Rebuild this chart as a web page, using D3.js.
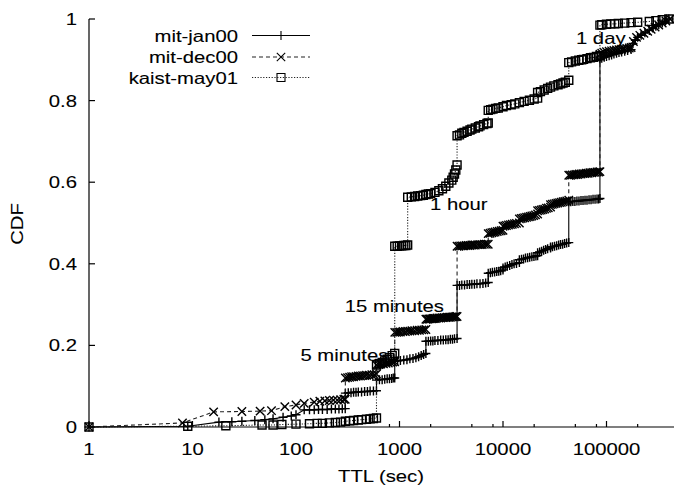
<!DOCTYPE html>
<html>
<head>
<meta charset="utf-8">
<script src="https://cdn.jsdelivr.net/npm/d3@7"></script>
<style>
html,body{margin:0;padding:0;background:#fff;}
svg{display:block;}
text{font-family:"Liberation Sans",Arial,Helvetica,sans-serif;font-size:16.5px;fill:#000;stroke:#000;stroke-width:0.1px;}
</style>
</head>
<body>
<svg id="chart" width="674" height="489"></svg>
<script>
// ---------------- data (TTL in seconds, CDF) ----------------
const seriesNames = ["mit-jan00", "mit-dec00", "kaist-may01"];
const yTickValues = [0, 0.2, 0.4, 0.6, 0.8, 1];
const yTickLabels = ["0", "0.2", "0.4", "0.6", "0.8", "1"];
const xTickValues = [1, 10, 100, 1000, 10000, 100000];
const xTickLabels = ["1", "10", "100", "1000", "10000", "100000"];
const xMinorTicks = [800, 2000, 5000, 8000, 20000, 50000, 80000, 200000];
const annotations = [
  {text: "5 minutes", ttl: 300},
  {text: "15 minutes", ttl: 900},
  {text: "1 hour", ttl: 3600},
  {text: "1 day", ttl: 86400}
];

const mitJan00 = [
[1,0],[9,0.002],[18,0.012],[24,0.013],[30,0.014],[40,0.016],[50,0.018],[60,0.02],[75,0.024],[90,0.027],[100,0.03],[120,0.042],[135,0.042],[150,0.042],[165,0.043],[180,0.043],[200,0.043],[220,0.044],[240,0.044],[260,0.044],[280,0.045],[299,0.045],
[300,0.083],[320,0.084],[340,0.084],[360,0.085],[380,0.085],[400,0.086],[430,0.086],[460,0.087],[490,0.087],[520,0.088],[560,0.088],[599,0.089],
[600,0.115],[640,0.116],[680,0.116],[720,0.117],[760,0.118],[800,0.118],[840,0.119],[870,0.12],[899,0.12],
[900,0.161],[960,0.162],[1020,0.163],[1100,0.164],[1180,0.165],[1260,0.167],[1350,0.168],[1440,0.17],[1530,0.172],[1620,0.175],[1710,0.178],[1799,0.18],
[1800,0.21],[1900,0.21],[2000,0.211],[2100,0.211],[2200,0.212],[2350,0.212],[2500,0.213],[2650,0.213],[2800,0.214],[2950,0.214],[3100,0.215],[3250,0.215],[3400,0.216],[3599,0.217],
[3600,0.347],[3800,0.347],[4000,0.348],[4250,0.348],[4500,0.349],[4750,0.349],[5000,0.35],[5300,0.35],[5600,0.351],[6000,0.351],[6400,0.352],[6800,0.353],[7199,0.354],
[7200,0.377],[7550,0.378],[7900,0.379],[8300,0.38],[8700,0.381],[9100,0.382],[9500,0.383],[9999,0.385],
[10000,0.39],[10500,0.392],[11000,0.394],[11600,0.396],[12200,0.398],[12800,0.4],[13500,0.401],[14399,0.403],
[14400,0.41],[15100,0.411],[15800,0.412],[16500,0.414],[17300,0.415],[18100,0.416],[19000,0.417],[19900,0.418],[20800,0.419],[21599,0.42],
[21600,0.427],[22600,0.429],[23600,0.431],[24700,0.433],[25800,0.435],[27000,0.437],[28799,0.439],
[28800,0.441],[30100,0.442],[31500,0.443],[33000,0.444],[34500,0.446],[36000,0.447],[37700,0.448],[39400,0.45],[41200,0.451],[43199,0.452],
[43200,0.552],[45200,0.552],[47300,0.553],[49500,0.553],[51800,0.554],[54200,0.554],[56700,0.555],[59300,0.555],[62000,0.556],[64800,0.556],[67800,0.557],[70900,0.557],[74100,0.558],[77500,0.558],[81000,0.559],[84000,0.559],[86399,0.56],
[86400,0.902],[90000,0.904],[95000,0.906],[100000,0.908],[106000,0.91],[112000,0.912],[118000,0.914],[125000,0.916],[132000,0.918],[140000,0.919],[150000,0.921],[160000,0.923],[172800,0.925],[180000,0.94],[190000,0.948],[200000,0.955],[216000,0.96],[235000,0.966],[259200,0.972],[280000,0.978],[300000,0.982],[320000,0.986],[345600,0.99],[370000,0.995],[400000,1.0]
];

const mitDec00 = [
[1,0],[8,0.01],[16,0.037],[30,0.038],[45,0.039],[58,0.04],[78,0.05],[100,0.054],[120,0.058],[150,0.061],[170,0.063],[190,0.064],[210,0.065],[230,0.066],[250,0.066],[270,0.067],[290,0.068],[299,0.068],
[300,0.12],[315,0.121],[330,0.122],[345,0.123],[360,0.123],[380,0.124],[400,0.125],[420,0.125],[440,0.126],[460,0.126],[480,0.127],[510,0.127],[540,0.128],[570,0.128],[599,0.13],
[600,0.152],[630,0.153],[660,0.154],[700,0.155],[740,0.156],[780,0.157],[820,0.158],[860,0.159],[899,0.16],
[900,0.232],[940,0.232],[980,0.233],[1020,0.233],[1080,0.234],[1140,0.234],[1200,0.235],[1260,0.235],[1320,0.236],[1400,0.236],[1480,0.237],[1560,0.237],[1640,0.238],[1720,0.238],[1799,0.239],
[1800,0.264],[1860,0.264],[1920,0.265],[1980,0.265],[2040,0.265],[2100,0.266],[2160,0.266],[2220,0.266],[2300,0.267],[2400,0.267],[2500,0.267],[2600,0.268],[2700,0.268],[2800,0.268],[2900,0.269],[3000,0.269],[3100,0.269],[3200,0.27],[3300,0.27],[3400,0.27],[3500,0.271],[3599,0.271],
[3600,0.443],[3750,0.443],[3900,0.444],[4050,0.444],[4200,0.444],[4400,0.445],[4600,0.445],[4800,0.445],[5000,0.446],[5200,0.446],[5400,0.446],[5700,0.447],[6000,0.447],[6300,0.447],[6600,0.448],[6900,0.448],[7199,0.448],
[7200,0.474],[7500,0.475],[7800,0.476],[8100,0.477],[8400,0.478],[8800,0.479],[9200,0.48],[9600,0.481],[9999,0.482],
[10000,0.492],[10400,0.493],[10800,0.494],[11300,0.495],[11800,0.496],[12300,0.497],[12900,0.498],[13500,0.499],[14399,0.5],
[14400,0.51],[15000,0.511],[15600,0.512],[16200,0.513],[16900,0.514],[17600,0.515],[18300,0.516],[19000,0.517],[19800,0.518],[20600,0.52],[21599,0.522],
[21600,0.53],[22500,0.531],[23400,0.532],[24300,0.533],[25300,0.534],[26300,0.536],[27400,0.537],[28799,0.539],
[28800,0.545],[30000,0.546],[31200,0.547],[32500,0.548],[33800,0.549],[35200,0.55],[36600,0.551],[38100,0.552],[39600,0.553],[41300,0.554],[43199,0.556],
[43200,0.617],[44900,0.617],[46700,0.618],[48600,0.618],[50500,0.619],[52500,0.619],[54600,0.62],[56800,0.62],[59100,0.621],[61500,0.621],[64000,0.622],[66500,0.622],[69200,0.623],[72000,0.623],[74900,0.624],[77900,0.624],[81000,0.625],[84000,0.625],[86399,0.626],
[86400,0.914],[90000,0.916],[95000,0.918],[100000,0.92],[106000,0.921],[112000,0.922],[118000,0.923],[125000,0.924],[132000,0.925],[140000,0.926],[148000,0.927],[157000,0.928],[166000,0.929],[172800,0.93],[182000,0.945],[195000,0.955],[210000,0.96],[230000,0.965],[250000,0.97],[270000,0.975],[295000,0.98],[320000,0.985],[345600,0.99],[375000,0.995],[410000,1.0]
];

const kaistMay01 = [
[1,0],[9,0.002],[21,0.003],[47,0.005],[60,0.005],[73,0.006],[100,0.007],[135,0.008],[160,0.009],[180,0.009],[210,0.01],[240,0.011],[270,0.012],[300,0.014],[330,0.015],[360,0.016],[400,0.017],[430,0.018],[480,0.019],[520,0.02],[560,0.021],[599,0.022],
[600,0.152],[640,0.155],[680,0.158],[720,0.162],[760,0.166],[800,0.17],[850,0.175],[899,0.18],
[900,0.443],[950,0.443],[1000,0.444],[1050,0.444],[1100,0.445],[1150,0.445],[1199,0.446],
[1200,0.563],[1300,0.564],[1400,0.565],[1500,0.566],[1600,0.567],[1700,0.568],[1800,0.57],[1900,0.571],[2000,0.572],[2200,0.575],[2400,0.579],[2600,0.584],[2800,0.59],[3000,0.598],[3200,0.605],[3300,0.612],[3400,0.62],[3500,0.63],[3599,0.642],
[3600,0.714],[3800,0.716],[4000,0.72],[4200,0.722],[4500,0.725],[4800,0.728],[5000,0.73],[5400,0.733],[5800,0.736],[6000,0.738],[6500,0.741],[7000,0.744],[7199,0.745],
[7200,0.776],[7600,0.778],[8000,0.779],[8500,0.781],[9000,0.782],[10000,0.785],[10800,0.788],[12000,0.79],[13000,0.792],[14400,0.795],[16000,0.798],[18000,0.801],[20000,0.804],[21599,0.806],
[21600,0.82],[23000,0.822],[25000,0.826],[27000,0.83],[28800,0.833],[31000,0.836],[34000,0.839],[36000,0.841],[38000,0.843],[40000,0.845],[43199,0.85],
[43200,0.893],[46000,0.895],[50000,0.897],[54000,0.899],[57600,0.9],[60000,0.901],[64800,0.903],[70000,0.905],[75000,0.906],[80000,0.908],[86399,0.91],
[86400,0.985],[90000,0.986],[100000,0.987],[110000,0.988],[120000,0.988],[130000,0.989],[150000,0.99],[172800,0.991],[200000,0.992],[259200,0.994],[300000,0.996],[345600,0.998],[400000,1.0]
];

// ---------------- drawing ----------------
const svg = d3.select("#chart");
svg.append("rect").attr("width", 674).attr("height", 489).attr("fill", "#fff");

const x = d3.scaleLog().domain([1, 100000]).range([89, 606.5]);
const y = d3.scaleLinear().domain([0, 1]).range([427, 19]);
const SX = 1.23;

function label(g, txt, tx, ty, anchor, rot) {
  return g.append("text")
    .attr("transform", `translate(${tx},${ty})` + (rot ? ` rotate(${rot})` : "") + ` scale(${SX},1)`)
    .attr("text-anchor", anchor)
    .text(txt);
}

// annotations (drawn beneath data, like gnuplot)
const annG = svg.append("g");
const annPos = {
  "5 minutes": [x(300) - 45, 361],
  "15 minutes": [x(900) - 50, 312],
  "1 hour": [x(3600) - 27, 210],
  "1 day": [x(86400) - 24, 44]
};
annotations.forEach(a => {
  const p = annPos[a.text];
  label(annG, a.text, p[0], p[1], "start");
});

const markers = {
  plus: "M-4.5,0H4.5M0,-4.5V4.5",
  cross: "M-4.2,-4.2L4.2,4.2M-4.2,4.2L4.2,-4.2",
  square: "M-4,-4H4V4H-4Z"
};
const styles = [
  {data: mitJan00, dash: null, stroke: "#000", mk: markers.plus},
  {data: mitDec00, dash: "4,3", stroke: "#222", mk: markers.cross},
  {data: kaistMay01, dash: "1.2,1.6", stroke: "#222", mk: markers.square}
];

const line = d3.line().x(d => x(d[0])).y(d => y(d[1]));

styles.forEach(s => {
  const g = svg.append("g");
  g.append("path").datum(s.data).attr("d", line)
    .attr("fill", "none").attr("stroke", s.stroke).attr("stroke-width", 1.1)
    .attr("stroke-dasharray", s.dash);
  g.selectAll("path.mk").data(s.data).enter().append("path")
    .attr("class", "mk")
    .attr("d", s.mk)
    .attr("transform", d => `translate(${x(d[0])},${y(d[1])})`)
    .attr("fill", "none").attr("stroke", "#000").attr("stroke-width", 1.4);
});

// axes
const axG = svg.append("g").attr("stroke", "#000").attr("stroke-width", 1.2);
axG.append("line").attr("x1", x(1)).attr("x2", x(1)).attr("y1", y(0)).attr("y2", y(1));
axG.append("line").attr("x1", x(1)).attr("x2", 674).attr("y1", y(0)).attr("y2", y(0));
yTickValues.forEach(v => {
  axG.append("line").attr("x1", x(1)).attr("x2", x(1) + 6).attr("y1", y(v)).attr("y2", y(v));
});
xTickValues.forEach(v => {
  axG.append("line").attr("x1", x(v)).attr("x2", x(v)).attr("y1", y(0)).attr("y2", y(0) - 6);
});
xMinorTicks.forEach(v => {
  axG.append("line").attr("x1", x(v)).attr("x2", x(v)).attr("y1", y(0)).attr("y2", y(0) - 3);
});

const tl = svg.append("g");
yTickValues.forEach((v, i) => label(tl, yTickLabels[i], 77, y(v) + 6, "end"));
xTickValues.forEach((v, i) => label(tl, xTickLabels[i], x(v), 455, "middle"));

label(tl, "TTL (sec)", 381, 482, "middle");
label(tl, "CDF", 23, 224, "middle", -90);

// legend
const lg = svg.append("g");
const legY = [35.5, 57, 77.5];
styles.forEach((s, i) => {
  label(lg, seriesNames[i], 238, legY[i] + 6, "end");
  lg.append("line").attr("x1", 252).attr("x2", 310).attr("y1", legY[i]).attr("y2", legY[i])
    .attr("stroke", s.stroke).attr("stroke-width", 1.1).attr("stroke-dasharray", s.dash);
  lg.append("path").attr("d", s.mk).attr("transform", `translate(281,${legY[i]})`)
    .attr("fill", "none").attr("stroke", "#000").attr("stroke-width", 1.1);
});
</script>
</body>
</html>
